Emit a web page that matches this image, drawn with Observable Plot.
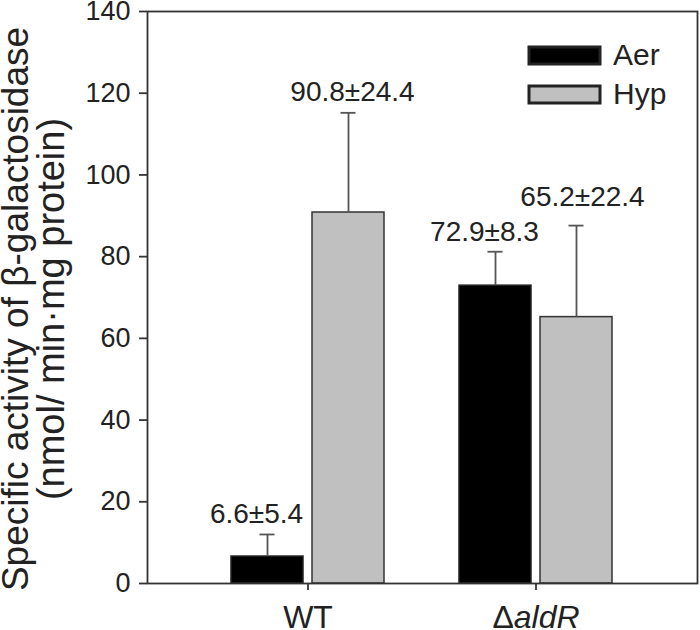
<!DOCTYPE html>
<html><head><meta charset="utf-8">
<script src="https://cdn.jsdelivr.net/npm/d3@7"></script>
<script src="https://cdn.jsdelivr.net/npm/@observablehq/plot@0.6"></script>
<style>
body{margin:0;background:#fff;}
#wrap{position:relative;width:700px;height:630px;font-family:"Liberation Sans",Arial,sans-serif;}
#legend{position:absolute;left:529px;top:36px;}
#legend svg{margin-right:13px !important;}
#legend svg rect{stroke:#222;stroke-width:3px;}
</style></head><body><div id="wrap"></div>
<script>
const groups = ["WT", "ΔaldR"];
const series = ["Aer", "Hyp"];
const aerMean = [6.6, 72.9];
const aerSD = [5.4, 8.3];
const hypMean = [90.8, 65.2];
const hypSD = [24.4, 22.4];
const yTicks = [0, 20, 40, 60, 80, 100, 120, 140];
const colors = ["#000000", "#c0c0c0"];
const titleLines = ["Specific activity of β-galactosidase", "(nmol/ min·mg protein)"];

const aer = groups.map((g, i) => ({group: g, series: "Aer", mean: aerMean[i], sd: aerSD[i]}));
const hyp = groups.map((g, i) => ({group: g, series: "Hyp", mean: hypMean[i], sd: hypSD[i]}));
[...aer, ...hyp].forEach(d => { d.top = d.mean + d.sd; d.label = `${d.mean}±${d.sd}`; });

const font = '"Liberation Sans", Arial, sans-serif';
// bars within each group band: band 154px, bar 73px, gap 8px
const half = 40.5, gapShift = 81, capIn = 28.5;
const errStyle = {stroke: "#555", strokeWidth: 1.8};
const txtStyle = {text: "label", lineAnchor: "bottom", fontSize: 28, fill: "#222"};

const chart = Plot.plot({
  width: 700, height: 630,
  marginLeft: 147, marginRight: 3, marginTop: 11, marginBottom: 47,
  style: {fontFamily: font, fontSize: "27px", color: "#333", background: "white", overflow: "visible"},
  x: {domain: groups, paddingInner: 0.3275, paddingOuter: 0.3647, label: null},
  y: {domain: [0, 140], label: null},
  color: {domain: series, range: colors},
  marks: [
    Plot.barY(aer, {x: "group", y: "mean", fill: "series", stroke: "#222", strokeWidth: 1.5, insetRight: gapShift}),
    Plot.barY(hyp, {x: "group", y: "mean", fill: "series", stroke: "#333", strokeWidth: 1.5, insetLeft: gapShift}),
    Plot.ruleX(aer, {x: "group", y1: "mean", y2: "top", dx: -half, ...errStyle}),
    Plot.ruleX(hyp, {x: "group", y1: "mean", y2: "top", dx: half, ...errStyle}),
    Plot.tickY(aer, {x: "group", y: "top", insetLeft: capIn, insetRight: gapShift + capIn, ...errStyle}),
    Plot.tickY(hyp, {x: "group", y: "top", insetLeft: gapShift + capIn, insetRight: capIn, ...errStyle}),
    Plot.text(aer, {x: "group", y: "top", dx: -half - 11, dy: -11, ...txtStyle}),
    Plot.text(hyp.slice(0, 1), {x: "group", y: "top", dx: half + 4, dy: -12, ...txtStyle}),
    Plot.text(hyp.slice(1), {x: "group", y: "top", dx: half + 6, dy: -20, ...txtStyle}),
    Plot.frame({stroke: "#333", strokeWidth: 1.8}),
    Plot.axisY({ticks: yTicks, tickSize: 8, tickPadding: 9, label: null, fontSize: 27, stroke: "#333", strokeWidth: 1.8, fill: "#222"}),
    Plot.axisX({anchor: "bottom", tickSize: 7, tickPadding: 15, label: null, fontSize: 32, stroke: "#333", strokeWidth: 1.8, fill: "#222"})
  ]
});

const wrap = document.getElementById("wrap");
wrap.appendChild(chart);
const svg = d3.select(chart);

// italic gene name
svg.selectAll("text").each(function() {
  if (this.textContent === "ΔaldR") {
    const el = d3.select(this);
    const target = el.select("tspan").empty() ? el : el.select("tspan");
    target.text("");
    target.append("tspan").text("Δ");
    target.append("tspan").attr("font-style", "italic").text("aldR");
  }
});

// y-axis title (two lines)
const tx = [28, 64], tsz = [37, 38];
titleLines.forEach((t, i) => {
  svg.append("text")
    .attr("transform", `translate(${tx[i]},309) rotate(-90)`)
    .attr("text-anchor", "middle")
    .attr("font-family", font)
    .attr("font-size", tsz[i])
    .attr("fill", "#222")
    .text(t);
});

// legend
const lg = Plot.legend({
  color: {domain: series, range: colors},
  legend: "swatches", swatchWidth: 71, swatchHeight: 17, columns: 1,
  style: {fontFamily: font, fontSize: "30px", lineHeight: "38px", color: "#222"}
});
lg.id = "legend";
wrap.appendChild(lg);
</script></body></html>
